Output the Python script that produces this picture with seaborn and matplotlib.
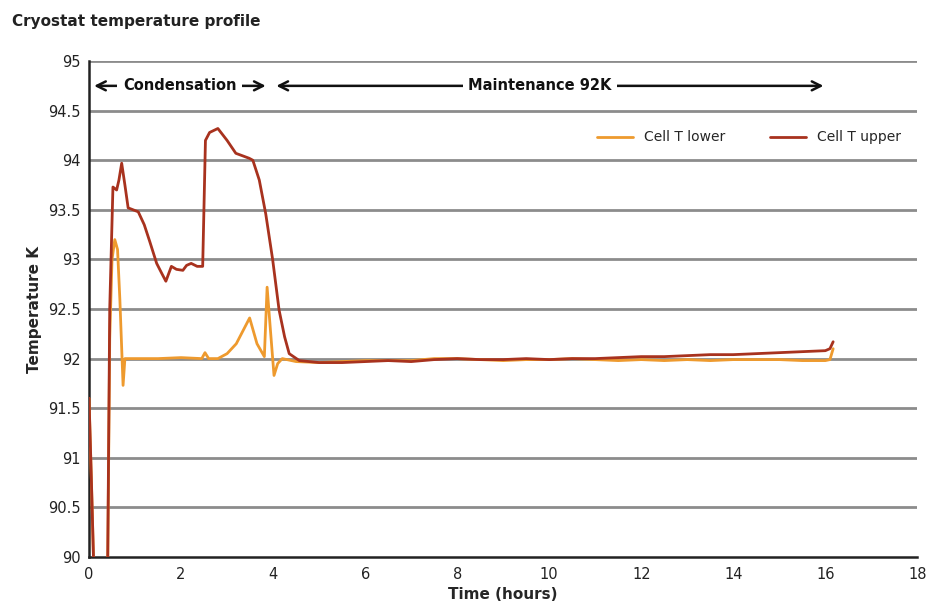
import matplotlib
matplotlib.use("Agg")
import matplotlib.pyplot as plt
import seaborn as sns
import pandas as pd
from matplotlib.ticker import FuncFormatter

# ── DATA ─────────────────────────────────────────────────────────────────────
upper_time = [0.0, 0.05, 0.12, 0.40, 0.45, 0.52, 0.60, 0.65, 0.71, 0.78, 0.85,
              1.07, 1.20, 1.32, 1.47, 1.58, 1.67, 1.79, 1.90, 2.04, 2.12, 2.22,
              2.35, 2.47, 2.53, 2.62, 2.80, 3.00, 3.19, 3.48, 3.56, 3.70, 3.84,
              3.99, 4.13, 4.25, 4.35, 4.57, 5.0, 5.5, 6.0, 6.5, 7.0, 7.5, 8.0,
              8.5, 9.0, 9.5, 10.0, 10.5, 11.0, 11.5, 12.0, 12.5, 13.0, 13.5,
              14.0, 14.5, 15.0, 15.5, 16.0, 16.1, 16.17]
upper_temp = [91.6, 90.8, 89.6, 89.6, 92.5, 93.73, 93.70, 93.80, 93.97, 93.75, 93.52,
              93.48, 93.35, 93.18, 92.96, 92.86, 92.78, 92.93, 92.90, 92.89, 92.94, 92.96,
              92.93, 92.93, 94.20, 94.28, 94.32, 94.20, 94.07, 94.02, 94.00, 93.80, 93.46,
              93.00, 92.49, 92.22, 92.05, 91.98, 91.96, 91.96, 91.97, 91.98, 91.97, 91.99, 92.00,
              91.99, 91.99, 92.00, 91.99, 92.00, 92.00, 92.01, 92.02, 92.02, 92.03, 92.04,
              92.04, 92.05, 92.06, 92.07, 92.08, 92.10, 92.17]

lower_time = [0.0, 0.05, 0.12, 0.40, 0.45, 0.50, 0.56, 0.62, 0.67, 0.74, 0.78,
              0.85, 1.5, 2.0, 2.45, 2.52, 2.60, 2.80, 3.00, 3.20, 3.49, 3.65,
              3.81, 3.87, 3.94, 4.02, 4.10, 4.20, 4.5, 5.0, 5.5, 6.0, 6.5, 7.0,
              7.5, 8.0, 8.5, 9.0, 9.5, 10.0, 10.5, 11.0, 11.5, 12.0, 12.5, 13.0,
              13.5, 14.0, 14.5, 15.0, 15.5, 16.0, 16.1, 16.17]
lower_temp = [91.6, 90.8, 89.6, 89.6, 92.2, 93.0, 93.20, 93.10, 92.60, 91.73, 92.00,
              92.00, 92.00, 92.01, 92.00, 92.06, 92.00, 92.00, 92.05, 92.15, 92.41, 92.15,
              92.02, 92.72, 92.30, 91.83, 91.95, 92.00, 91.97, 91.96, 91.97, 91.98, 91.98, 91.98,
              92.00, 92.00, 91.99, 91.98, 91.99, 91.99, 92.00, 91.99, 91.98, 91.99, 91.98, 91.99,
              91.98, 91.99, 91.99, 91.99, 91.98, 91.98, 91.99, 92.10]

series_names = ["Cell T lower", "Cell T upper"]
series_colors = ["#EE9A2E", "#A8321E"]

y_ticks = [90, 90.5, 91, 91.5, 92, 92.5, 93, 93.5, 94, 94.5, 95]
x_ticks = [0, 2, 4, 6, 8, 10, 12, 14, 16, 18]

phase_labels = ["Condensation", "Maintenance 92K"]
phase_bounds = [(0.0, 3.9), (3.96, 16.02)]
phase_text_x = [1.97, 9.8]

# ── PLOT ─────────────────────────────────────────────────────────────────────
sns.set_theme(style="white")
plt.rcParams["font.family"] = ["DejaVu Sans"]

df = pd.concat([
    pd.DataFrame({"time": lower_time, "temp": lower_temp, "series": series_names[0]}),
    pd.DataFrame({"time": upper_time, "temp": upper_temp, "series": series_names[1]}),
])

fig = plt.figure(figsize=(9.36, 6.13), dpi=100)
ax = fig.add_axes([0.0951, 0.0914, 0.885, 0.809])

for y in y_ticks[1:]:
    ax.axhline(y, color="#8c8c8c", lw=2.0, zorder=1)

sns.lineplot(data=df, x="time", y="temp", hue="series", palette=series_colors,
             hue_order=series_names, estimator=None, sort=False, lw=2.0, ax=ax,
             zorder=3)

ax.set_xlim(0, 18)
ax.set_ylim(90, 95)
ax.set_xticks(x_ticks)
ax.set_yticks(y_ticks)
ax.yaxis.set_major_formatter(FuncFormatter(lambda v, p: f"{v:g}"))
ax.tick_params(axis="both", labelsize=10.5, length=4, width=1.2, color="#333333",
               pad=3, labelcolor="#222222")
ax.tick_params(axis="y", length=3)
for lbl in ax.get_xticklabels() + ax.get_yticklabels():
    lbl.set_fontweight("medium")

for s in ["top", "right"]:
    ax.spines[s].set_visible(False)
for s in ["left", "bottom"]:
    ax.spines[s].set_color("#222222")
    ax.spines[s].set_linewidth(1.8)

ax.set_xlabel("Time (hours)", fontsize=11, fontweight="bold", labelpad=4)
ax.set_ylabel("Temperature K", fontsize=11, fontweight="bold", labelpad=4)
fig.text(0.013, 0.965, "Cryostat temperature profile", fontsize=11,
         fontweight="bold", color="#222222", va="center")

# phase arrows
arrow_y = 94.75
for label, (x0, x1), tx in zip(phase_labels, phase_bounds, phase_text_x):
    ax.annotate("", xy=(x0 + 0.05, arrow_y), xytext=(tx, arrow_y),
                arrowprops=dict(arrowstyle="->", lw=1.8, color="#111111",
                                mutation_scale=16), zorder=4)
    ax.annotate("", xy=(x1, arrow_y), xytext=(tx, arrow_y),
                arrowprops=dict(arrowstyle="->", lw=1.8, color="#111111",
                                mutation_scale=16), zorder=4)
    ax.text(tx, arrow_y, label, ha="center", va="center", fontsize=10.5,
            fontweight="bold", color="#111111", zorder=5,
            bbox=dict(facecolor="white", edgecolor="none", pad=4))

leg = ax.legend(loc="center right", bbox_to_anchor=(0.995, 0.846), ncol=2,
                frameon=False, fontsize=10, handlelength=2.6, columnspacing=3.2)
for line in leg.get_lines():
    line.set_linewidth(2.0)
leg.set_zorder(6)

fig.savefig("out.png", dpi=100)
